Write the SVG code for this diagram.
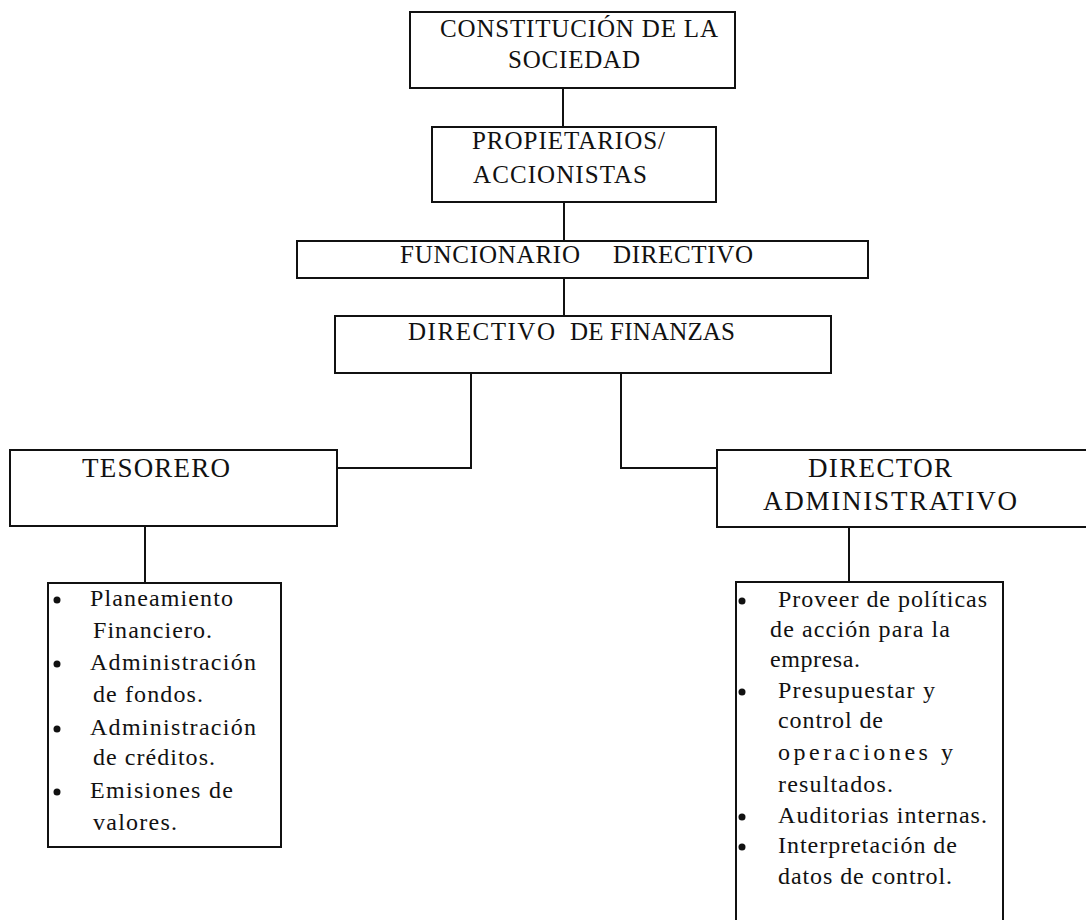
<svg xmlns="http://www.w3.org/2000/svg" width="1086" height="920" viewBox="0 0 1086 920">
  <style>
    .box { fill: #fff; stroke: #111; stroke-width: 2; }
    .link { fill: none; stroke: #111; stroke-width: 2; }
    .h { font-family: "Liberation Serif", "Times New Roman", serif; font-size: 25px; fill: #111; }
    .hb { font-family: "Liberation Serif", "Times New Roman", serif; font-size: 27px; fill: #111; }
    .t { font-family: "Liberation Serif", "Times New Roman", serif; font-size: 24px; fill: #111; }
    .dot { fill: #111; }
  </style>
  <rect width="1086" height="920" fill="#fff"/>

  <!-- connectors -->
  <g id="connectors">
    <line class="link" x1="563" y1="88" x2="563" y2="127"/>
    <line class="link" x1="564" y1="202" x2="564" y2="240"/>
    <line class="link" x1="564" y1="278" x2="564" y2="316"/>
    <polyline class="link" points="471,373 471,468 337,468"/>
    <polyline class="link" points="621,373 621,468 717,468"/>
    <line class="link" x1="145" y1="526" x2="145" y2="583"/>
    <line class="link" x1="849" y1="527" x2="849" y2="582"/>
  </g>

  <g id="constitucion">
    <rect class="box" x="410" y="12" width="325" height="76"/>
    <text class="h" x="440" y="37" textLength="278" lengthAdjust="spacing">CONSTITUCIÓN DE LA</text>
    <text class="h" x="508" y="68" textLength="132" lengthAdjust="spacing">SOCIEDAD</text>
  </g>

  <g id="propietarios">
    <rect class="box" x="432" y="127" width="284" height="75"/>
    <text class="h" x="472" y="149" textLength="193" lengthAdjust="spacing">PROPIETARIOS/</text>
    <text class="h" x="473" y="183" textLength="174" lengthAdjust="spacing">ACCIONISTAS</text>
  </g>

  <g id="funcionario">
    <rect class="box" x="297" y="241" width="571" height="37"/>
    <text class="h" x="400" y="263" textLength="180" lengthAdjust="spacing">FUNCIONARIO</text>
    <text class="h" x="613" y="263" textLength="140" lengthAdjust="spacing">DIRECTIVO</text>
  </g>

  <g id="directivo-finanzas">
    <rect class="box" x="335" y="316" width="496" height="57"/>
    <text class="h" x="408" y="340" textLength="147" lengthAdjust="spacing">DIRECTIVO</text>
    <text class="h" x="570" y="340" textLength="165" lengthAdjust="spacing">DE FINANZAS</text>
  </g>

  <g id="tesorero">
    <rect class="box" x="10" y="450" width="327" height="76"/>
    <text class="hb" x="82" y="477" textLength="148" lengthAdjust="spacing">TESORERO</text>
  </g>

  <g id="director-administrativo">
    <rect class="box" x="717" y="450" width="380" height="77"/>
    <text class="hb" x="808" y="477" textLength="144" lengthAdjust="spacing">DIRECTOR</text>
    <text class="hb" x="763" y="510" textLength="254" lengthAdjust="spacing">ADMINISTRATIVO</text>
  </g>

  <g id="funciones-tesorero">
    <rect class="box" x="48" y="583" width="233" height="264"/>
    <circle class="dot" cx="57" cy="600" r="3.5"/>
    <circle class="dot" cx="57" cy="664" r="3.5"/>
    <circle class="dot" cx="57" cy="729" r="3.5"/>
    <circle class="dot" cx="57" cy="792" r="3.5"/>
    <text class="t" x="90" y="606" textLength="143" lengthAdjust="spacing">Planeamiento</text>
    <text class="t" x="93" y="638" textLength="119" lengthAdjust="spacing">Financiero.</text>
    <text class="t" x="90" y="670" textLength="166" lengthAdjust="spacing">Administración</text>
    <text class="t" x="93" y="702" textLength="110" lengthAdjust="spacing">de fondos.</text>
    <text class="t" x="90" y="735" textLength="166" lengthAdjust="spacing">Administración</text>
    <text class="t" x="93" y="765" textLength="122" lengthAdjust="spacing">de créditos.</text>
    <text class="t" x="90" y="798" textLength="143" lengthAdjust="spacing">Emisiones de</text>
    <text class="t" x="93" y="830" textLength="84" lengthAdjust="spacing">valores.</text>
  </g>

  <g id="funciones-director">
    <rect class="box" x="736" y="582" width="267" height="350"/>
    <circle class="dot" cx="742" cy="601" r="3.5"/>
    <circle class="dot" cx="742" cy="692" r="3.5"/>
    <circle class="dot" cx="742" cy="817" r="3.5"/>
    <circle class="dot" cx="742" cy="847" r="3.5"/>
    <text class="t" x="778" y="607" textLength="209" lengthAdjust="spacing">Proveer de políticas</text>
    <text class="t" x="770" y="637" textLength="180" lengthAdjust="spacing">de acción para la</text>
    <text class="t" x="770" y="667" textLength="90" lengthAdjust="spacing">empresa.</text>
    <text class="t" x="778" y="698" textLength="157" lengthAdjust="spacing">Presupuestar  y</text>
    <text class="t" x="778" y="728" textLength="105" lengthAdjust="spacing">control de</text>
    <text class="t" x="778" y="760" textLength="175" lengthAdjust="spacing">operaciones y</text>
    <text class="t" x="778" y="792" textLength="115" lengthAdjust="spacing">resultados.</text>
    <text class="t" x="778" y="823" textLength="209" lengthAdjust="spacing">Auditorias internas.</text>
    <text class="t" x="778" y="853" textLength="179" lengthAdjust="spacing">Interpretación de</text>
    <text class="t" x="778" y="884" textLength="174" lengthAdjust="spacing">datos de control.</text>
  </g>
</svg>
